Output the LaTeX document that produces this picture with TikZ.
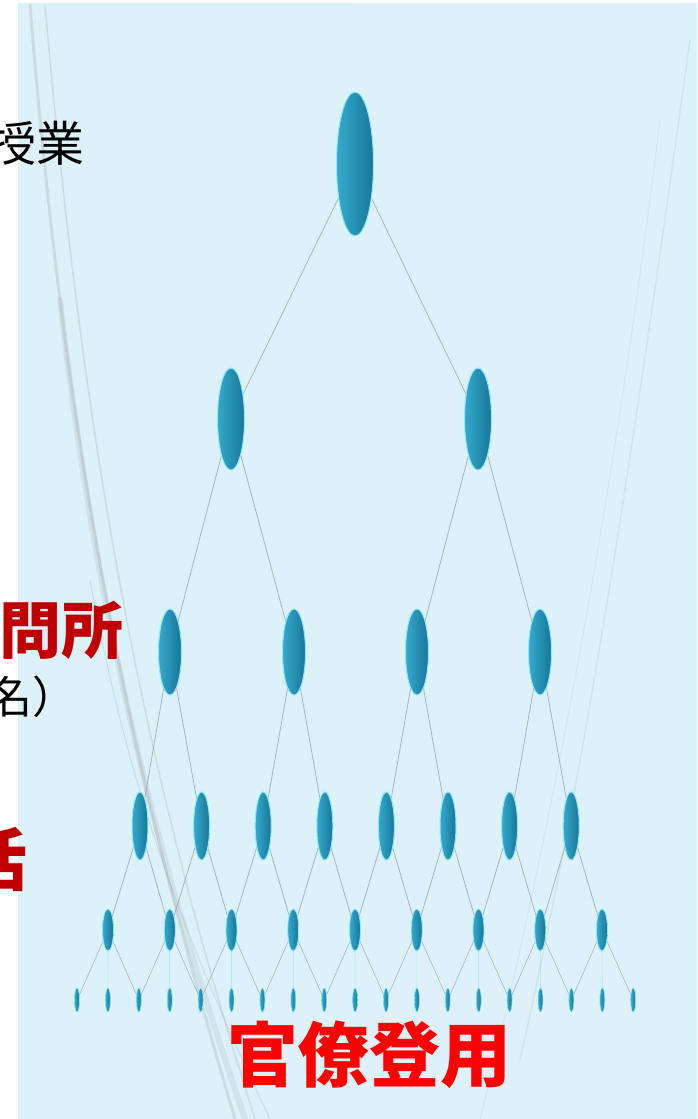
\documentclass[tikz,border=0pt]{standalone}
\usepackage{fontspec}
\newfontfamily\cjk{Noto Sans CJK JP}
\usetikzlibrary{shapes.geometric}
\definecolor{bgL}{RGB}{221,241,249}
\definecolor{bgM}{RGB}{230,238,249}
\definecolor{bgR}{RGB}{222,241,249}
\definecolor{nodeL}{RGB}{52,170,205}
\definecolor{nodeM}{RGB}{33,148,185}
\definecolor{nodeR}{RGB}{24,118,152}
\definecolor{glow}{RGB}{140,232,250}
\definecolor{linegray}{RGB}{150,162,170}
\definecolor{darkred}{RGB}{192,0,0}
\definecolor{brightred}{RGB}{255,0,0}
\pgfdeclarelayer{back}
\pgfdeclarelayer{lines}
\pgfsetlayers{back,lines,main}
\begin{document}
\begin{tikzpicture}[x=1pt,y=-1pt,
  leaf/.style={ellipse, inner sep=0pt, left color=nodeL, middle color=nodeM, right color=nodeR, draw=glow, line width=1pt},
  conn/.style={draw=linegray, line width=0.8pt, opacity=0.75},
  streak/.style={draw=gray, opacity=0.18, line cap=round},
  blacktext/.style={inner sep=0pt, text=black, font=\cjk\fontsize{48}{48}\selectfont},
  redtext/.style={inner sep=0pt, text=darkred, font=\cjk\bfseries\fontsize{62}{62}\selectfont}
]
\useasboundingbox (0,0) rectangle (697,1119);
\begin{pgfonlayer}{back}
\fill[white] (0,0) rectangle (697,1119);
\shade[left color=bgL, middle color=bgM, right color=bgR] (18,3) rectangle (697,1119);
\begin{scope}
\clip (18,3) rectangle (697,1119);
\draw[streak, line width=3pt] (30,5) .. controls (70,500) and (140,800) .. (235,1119);
\draw[streak, line width=1.5pt] (45,5) .. controls (90,520) and (160,820) .. (255,1119);
\draw[streak, line width=6pt, opacity=0.12] (60,300) .. controls (100,650) and (170,900) .. (245,1119);
\draw[streak, line width=1pt] (90,580) .. controls (130,800) and (190,950) .. (270,1119);
\draw[streak, line width=1.5pt, opacity=0.12] (690,40) .. controls (640,400) and (590,750) .. (520,1060);
\draw[streak, line width=1pt, opacity=0.1] (660,120) .. controls (620,450) and (560,800) .. (480,1119);
\end{scope}
\end{pgfonlayer}

% level 0
\node[leaf, minimum width=37pt, minimum height=144pt] (r) at (355,164) {};
% level 1
\node[leaf, minimum width=27pt, minimum height=102pt] (a1) at (231,419) {};
\node[leaf, minimum width=27pt, minimum height=102pt] (a2) at (478,419) {};
% level 2
\foreach \i/\x in {1/170,2/294,3/417,4/540}
  \node[leaf, minimum width=23pt, minimum height=86pt] (b\i) at (\x,652) {};
% level 3
\foreach \i in {1,...,8}
  \node[leaf, minimum width=16pt, minimum height=68pt] (c\i) at ({140+61.6*(\i-1)},826) {};
% level 4
\foreach \i in {1,...,9}
  \node[leaf, minimum width=11pt, minimum height=42pt, line width=0.8pt] (d\i) at ({108+61.75*(\i-1)},930) {};
% level 5
\foreach \i in {1,...,19}
  \node[leaf, minimum width=5pt, minimum height=24pt, line width=0.6pt] (e\i) at ({77+30.9*(\i-1)},1000) {};

\begin{pgfonlayer}{lines}
\draw[conn] (r.center) -- (a1.center);
\draw[conn] (r.center) -- (a2.center);
\draw[conn] (a1.center) -- (b1.center);
\draw[conn] (a1.center) -- (b2.center);
\draw[conn] (a2.center) -- (b3.center);
\draw[conn] (a2.center) -- (b4.center);
\foreach \k in {1,...,4}{
  \pgfmathtruncatemacro{\ca}{2*\k-1}
  \pgfmathtruncatemacro{\cb}{2*\k}
  \draw[conn] (b\k.center) -- (c\ca.center);
  \draw[conn] (b\k.center) -- (c\cb.center);
}
\foreach \k in {1,...,8}{
  \pgfmathtruncatemacro{\dn}{\k+1}
  \draw[conn] (c\k.center) -- (d\k.center);
  \draw[conn] (c\k.center) -- (d\dn.center);
}
\foreach \k in {1,...,9}{
  \pgfmathtruncatemacro{\ea}{2*\k-1}
  \pgfmathtruncatemacro{\eb}{2*\k}
  \pgfmathtruncatemacro{\ec}{2*\k+1}
  \draw[conn, line width=0.6pt] (d\k.center) -- (e\ea.center);
  \draw[conn, line width=0.6pt, draw=glow] (d\k.center) -- (e\eb.center);
  \draw[conn, line width=0.6pt] (d\k.center) -- (e\ec.center);
}
\end{pgfonlayer}

% texts
\begin{scope}
\clip (0,0) rectangle (697,1119);
\node[blacktext, anchor=east] (t1) at (85,143) {授業};
\node[redtext, anchor=east] (t2) at (124,630) {問所};
\node[blacktext, font=\cjk\fontsize{44}{44}\selectfont, anchor=east] (t3) at (77,697) {名）};
\node[redtext, font=\cjk\bfseries\fontsize{68}{68}\selectfont, anchor=east] (t4) at (28,860) {活};
\node[inner sep=0pt, text=brightred, font=\cjk\bfseries\fontsize{71}{71}\selectfont] (t5) at (369,1055) {官僚登用};
\end{scope}
\end{tikzpicture}
\end{document}
